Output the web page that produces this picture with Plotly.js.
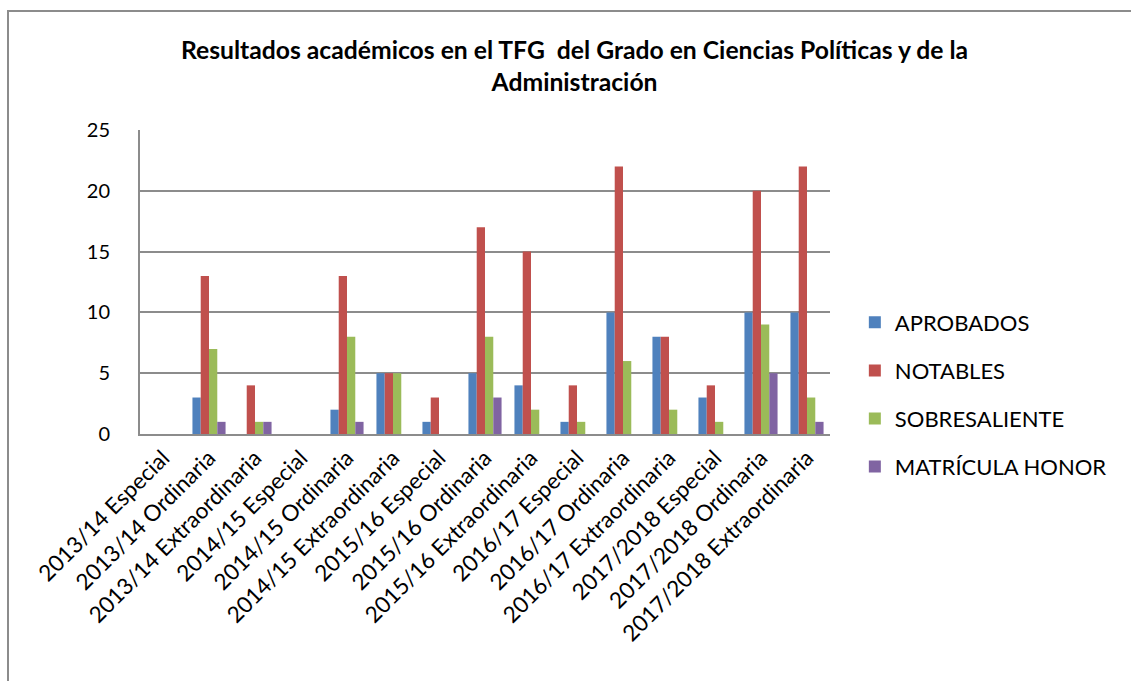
<!DOCTYPE html>
<html><head><meta charset="utf-8">
<script src="https://cdn.plot.ly/plotly-3.0.1.min.js"></script>
<style>
html,body{margin:0;padding:0;background:#fff;}
#frame{position:absolute;left:7px;top:10px;width:1200px;height:800px;border-left:2px solid #8c8c8c;border-top:2px solid #8c8c8c;}
#chart{position:absolute;left:0;top:0;width:1131px;height:681px;}
</style></head>
<body>
<div id="frame"></div>
<div id="chart"></div>
<script>
const categories = ["2013/14 Especial","2013/14 Ordinaria","2013/14 Extraordinaria","2014/15 Especial","2014/15 Ordinaria","2014/15 Extraordinaria","2015/16 Especial","2015/16 Ordinaria","2015/16 Extraordinaria","2016/17 Especial","2016/17 Ordinaria","2016/17 Extraordinaria","2017/2018 Especial","2017/2018 Ordinaria","2017/2018 Extraordinaria"];
const aprobados     = [0,3,0,0,2,5,1,5,4,1,10,8,3,10,10];
const notables      = [0,13,4,0,13,5,3,17,15,4,22,8,4,20,22];
const sobresaliente = [0,7,1,0,8,5,0,8,2,1,6,2,1,9,3];
const matricula     = [0,1,1,0,1,0,0,3,0,0,0,0,0,5,1];
const seriesNames = ["APROBADOS","NOTABLES","SOBRESALIENTE","MATRÍCULA HONOR"];
const colors = ["#4F81BD","#C0504D","#9BBB59","#8064A2"];
const yTicks = [0,5,10,15,20,25];

const all = [aprobados, notables, sobresaliente, matricula];
const traces = all.map((vals,i)=>({
  type:'bar', x:categories, y:vals, name:seriesNames[i], legendgroup:'g'+i,
  marker:{color:colors[i], line:{width:0}}, hoverinfo:'x+y+name'
}));

const layout = {
  width:1131, height:681,
  paper_bgcolor:'rgba(0,0,0,0)', plot_bgcolor:'rgba(0,0,0,0)',
  margin:{l:140, r:301, t:130, b:247, pad:0},
  font:{family:'Lato, Carlito, "Open Sans", sans-serif', color:'#000'},
  title:{text:'<b>Resultados académicos en el TFG  del Grado en Ciencias Políticas y de la<br>Administración</b>',
    font:{size:24.7, family:'Lato, Carlito, sans-serif', color:'#000'},
    x:0.508, xref:'container', xanchor:'center', y:0.914, yanchor:'top'},
  barmode:'group', bargap:0.28, bargroupgap:0,
  xaxis:{type:'category', tickangle:-45, tickfont:{size:22.5}, showline:true, linecolor:'#8c8c8c', linewidth:2,
    ticks:'', showgrid:false, automargin:false},
  yaxis:{range:[0,25], tickvals:yTicks, tickfont:{size:20}, showgrid:true, gridcolor:'#8c8c8c', gridwidth:2,
    showline:true, linecolor:'#8c8c8c', linewidth:2, ticks:'', ticklen:0, zeroline:false, automargin:false,
    ticklabelstandoff:24},
  legend:{x:1.036, xanchor:'left', y:0.13, yanchor:'middle', font:{size:22}, tracegroupgap:16.5,
    bgcolor:'rgba(0,0,0,0)', itemwidth:30},
  showlegend:true
};
Plotly.newPlot('chart', traces, layout, {displayModeBar:false, staticPlot:true});
</script>
</body></html>
